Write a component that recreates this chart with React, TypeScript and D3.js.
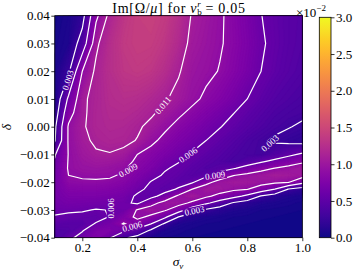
import * as d3 from "d3";
import { useEffect, useRef } from "react";

// grid of the map
const sigma = [0.1, 0.15, 0.2, 0.25, 0.3, 0.35, 0.4, 0.45, 0.5, 0.55, 0.6, 0.65, 0.7, 0.75, 0.8, 0.85, 0.9, 0.95, 1.0];
const delta = [0.04, 0.03, 0.02, 0.01, 0.005, 0, -0.005, -0.01, -0.0125, -0.015, -0.0175, -0.02, -0.0225, -0.025, -0.0275, -0.03, -0.0325, -0.035, -0.0375, -0.04];

// Im[Omega/mu] in units of 1e-3, one row per delta (top row = 0.04)
const growth = [
  [0.3, 0.8, 2.0, 8.5, 11.6, 13.3, 14.2, 14.4, 13.9, 12.6, 10.8, 10.05, 9.3, 8.3, 7.2, 6.05, 5.3, 4.8, 4.5],
  [0.5, 1.0, 4.2, 10.6, 12.5, 13.7, 14.2, 14.1, 13.4, 12.1, 10.4, 9.8, 9.2, 8.4, 7.4, 6.3, 5.4, 4.8, 4.4],
  [0.8, 2.5, 9.0, 11.4, 12.6, 13.4, 13.7, 13.4, 12.5, 11.2, 9.9, 9.5, 8.9, 8.1, 7.1, 6.0, 5.2, 4.6, 4.2],
  [0.8, 6.5, 10.7, 11.5, 12.3, 12.6, 12.4, 11.9, 11.2, 10.4, 9.5, 8.6, 7.9, 7.0, 6.0, 5.1, 4.4, 4.0, 3.7],
  [1.5, 8.0, 10.7, 11.6, 12.1, 12.2, 11.9, 11.3, 10.4, 9.4, 8.5, 7.7, 6.9, 6.05, 5.2, 4.5, 3.9, 3.6, 3.4],
  [2.5, 9.3, 10.8, 11.6, 11.9, 11.8, 11.3, 10.5, 9.4, 8.4, 7.6, 6.8, 6.1, 5.3, 4.6, 4.0, 3.5, 3.1, 2.7],
  [2.8, 9.3, 10.6, 11.3, 11.6, 11.5, 10.9, 9.5, 8.4, 7.5, 6.8, 6.0, 5.2, 4.5, 3.8, 3.3, 2.7, 2.3, 2.0],
  [5.8, 9.1, 10.2, 10.8, 10.9, 10.5, 9.0, 8.2, 7.4, 6.6, 5.8, 5.1, 4.5, 3.9, 3.5, 3.3, 4.3, 5.4, 6.4],
  [6.2, 9.15, 9.9, 10.3, 10.2, 9.8, 8.6, 7.8, 6.8, 6.1, 5.3, 4.7, 4.2, 3.6, 4.5, 5.6, 6.7, 7.7, 8.6],
  [6.5, 9.2, 9.7, 9.8, 9.6, 9.2, 8.2, 7.4, 6.2, 5.6, 4.9, 4.3, 4.7, 5.8, 7.1, 8.2, 9.1, 9.7, 10.3],
  [6.7, 9.0, 9.2, 9.3, 9.3, 8.7, 7.7, 6.7, 5.75, 5.25, 4.6, 5.2, 7.5, 8.9, 9.6, 10.2, 10.8, 10.5, 10.1],
  [6.8, 8.7, 8.8, 8.8, 8.6, 8.2, 7.1, 5.9, 5.4, 4.9, 5.7, 8.3, 9.9, 10.5, 10.4, 9.9, 9.5, 9.1, 6.9],
  [6.8, 8.0, 8.1, 8.1, 7.9, 7.5, 6.5, 5.5, 5.0, 6.3, 9.0, 10.3, 10.2, 9.5, 9.1, 7.8, 6.0, 2.9, 1.8],
  [6.8, 7.4, 7.4, 7.4, 7.2, 6.9, 5.7, 5.2, 7.0, 9.5, 10.6, 9.5, 8.2, 7.0, 5.3, 2.8, 1.7, 1.1, 0.9],
  [6.6, 6.9, 6.8, 6.7, 6.6, 6.5, 5.6, 8.1, 9.9, 9.9, 8.5, 6.5, 4.7, 2.7, 1.7, 1.1, 0.9, 0.7, 0.5],
  [6.3, 6.3, 6.2, 5.9, 6.05, 6.4, 9.2, 10.2, 9.3, 7.4, 4.3, 2.6, 1.6, 1.1, 0.9, 0.6, 0.5, 0.45, 0.4],
  [5.9, 5.6, 5.5, 5.2, 6.1, 7.6, 9.6, 8.5, 6.6, 3.0, 1.5, 1.0, 0.8, 0.6, 0.5, 0.45, 0.4, 0.35, 0.35],
  [5.0, 4.8, 4.8, 6.2, 7.0, 9.2, 7.8, 6.0, 2.6, 1.1, 0.8, 0.6, 0.5, 0.45, 0.4, 0.35, 0.35, 0.3, 0.3],
  [4.2, 4.4, 5.9, 7.4, 7.6, 6.4, 5.2, 2.4, 1.0, 0.7, 0.5, 0.45, 0.4, 0.35, 0.35, 0.3, 0.3, 0.3, 0.3],
  [3.6, 5.6, 6.6, 7.8, 6.2, 3.5, 2.1, 1.0, 0.6, 0.5, 0.4, 0.35, 0.35, 0.3, 0.3, 0.3, 0.3, 0.3, 0.3],
];

// contour levels (1e-3) and the inline labels
const levels = [3, 6, 9, 11];
const labelSigma = [0.148, 0.4935, 0.367, 0.585, 0.883, 0.683, 0.608, 0.382, 0.303];
const labelDelta = [0.0168, 0.0077, -0.0157, -0.0102, -0.006, -0.0176, -0.0303, -0.036, -0.0294];
const labelText = ["0.003", "0.011", "0.009", "0.006", "0.003", "0.009", "0.003", "0.006", "0.006"];
const labelAngle = [-72, -50, -28, -35, -42, -8, -12, -15, -90];

const xTicks = [0.2, 0.4, 0.6, 0.8, 1.0];
const yTicks = [0.04, 0.03, 0.02, 0.01, 0, -0.01, -0.02, -0.03, -0.04];
const cbarTicks = [0, 0.5, 1.0, 1.5, 2.0, 2.5, 3.0];

const FONT = "Liberation Serif, DejaVu Serif, serif";
const W = 353, H = 271;
const P = { left: 54.8, right: 302.3, top: 15.7, bottom: 237.7 };
const CB = { left: 319.3, right: 331, top: 17.3, bottom: 237.7 };

export default function App() {
  const svgRef = useRef<SVGSVGElement>(null);

  useEffect(() => {
    const svg = d3.select(svgRef.current);
    svg.selectAll("*").remove();

    const x = d3.scaleLinear().domain([0.1, 1.0]).range([P.left, P.right]);
    const y = d3.scaleLinear().domain([-0.04, 0.04]).range([P.bottom, P.top]);
    const color = (v: number) => d3.interpolatePlasma(Math.max(0, Math.min(1, v / 30)));

    const n = sigma.length, m = delta.length;
    const col = d3.scaleLinear().domain(d3.range(n)).range(sigma);
    const row = d3.scaleLinear().domain(d3.range(m)).range(delta);
    const proj = d3.geoTransform({
      point(px: number, py: number) {
        this.stream.point(x(col(px - 0.5)), y(row(py - 0.5)));
      },
    });
    const path = d3.geoPath(proj);
    const values = growth.flat();

    const defs = svg.append("defs");
    defs.append("clipPath").attr("id", "plotclip")
      .append("rect").attr("x", P.left).attr("y", P.top)
      .attr("width", P.right - P.left).attr("height", P.bottom - P.top);

    //FILLED MAP
    const bands = d3.contours().size([n, m]).thresholds(d3.range(0, 30, 0.2))(values);
    svg.append("g").attr("clip-path", "url(#plotclip)")
      .selectAll("path").data(bands).join("path")
      .attr("d", path as any)
      .attr("fill", (d) => color(d.value))
      .attr("stroke", (d) => color(d.value))
      .attr("stroke-width", 0.3);

    //CONTOUR LINES, WITH GAPS UNDER THE LABELS
    const mask = defs.append("mask").attr("id", "labelmask")
      .attr("maskUnits", "userSpaceOnUse")
      .attr("x", 0).attr("y", 0).attr("width", W).attr("height", H);
    mask.append("rect").attr("width", W).attr("height", H).attr("fill", "white");

    const lines = d3.contours().size([n, m]).thresholds(levels)(values);
    svg.append("g").attr("clip-path", "url(#plotclip)")
      .append("g").attr("mask", "url(#labelmask)")
      .selectAll("path").data(lines).join("path")
      .attr("d", path as any)
      .attr("fill", "none")
      .attr("stroke", "white")
      .attr("stroke-width", 1.2);

    const lab = svg.append("g");
    labelText.forEach((t, i) => {
      const lx = x(labelSigma[i]), ly = y(labelDelta[i]);
      const txt = lab.append("text")
        .attr("transform", `translate(${lx},${ly}) rotate(${labelAngle[i]})`)
        .attr("text-anchor", "middle").attr("dy", "0.33em")
        .attr("font-family", FONT).attr("font-size", 9)
        .attr("fill", "white").text(t);
      const w = (txt.node() as SVGTextElement).getComputedTextLength() + 3;
      mask.append("rect")
        .attr("x", -w / 2).attr("y", -4).attr("width", w).attr("height", 8)
        .attr("transform", `translate(${lx},${ly}) rotate(${labelAngle[i]})`)
        .attr("fill", "black");
    });

    //FRAME AND AXES
    svg.append("rect").attr("x", P.left).attr("y", P.top)
      .attr("width", P.right - P.left).attr("height", P.bottom - P.top)
      .attr("fill", "none").attr("stroke", "black").attr("stroke-width", 0.8);

    const styleAxis = (g: any) => {
      g.attr("font-family", FONT);
      g.select(".domain").remove();
      g.selectAll("line").attr("stroke", "black").attr("stroke-width", 0.8);
      g.selectAll("text").attr("font-family", FONT).attr("font-size", 13).attr("fill", "black");
    };
    svg.append("g").attr("transform", `translate(0,${P.bottom})`)
      .call(d3.axisBottom(x).tickValues(xTicks).tickFormat(d3.format(".1f") as any).tickSize(3.5).tickPadding(2))
      .call(styleAxis);
    svg.append("g").attr("transform", `translate(${P.left},0)`)
      .call(d3.axisLeft(y).tickValues(yTicks).tickFormat(d3.format(".2f") as any).tickSize(3.5).tickPadding(1.5))
      .call(styleAxis);

    //COLORBAR
    const grad = defs.append("linearGradient").attr("id", "cbgrad")
      .attr("x1", 0).attr("y1", 1).attr("x2", 0).attr("y2", 0);
    d3.range(0, 1.0001, 0.05).forEach((t) => {
      grad.append("stop").attr("offset", t).attr("stop-color", d3.interpolatePlasma(t));
    });
    svg.append("rect").attr("x", CB.left).attr("y", CB.top)
      .attr("width", CB.right - CB.left).attr("height", CB.bottom - CB.top)
      .attr("fill", "url(#cbgrad)").attr("stroke", "black").attr("stroke-width", 0.8);
    const cy = d3.scaleLinear().domain([0, 3]).range([CB.bottom, CB.top]);
    svg.append("g").attr("transform", `translate(${CB.right},0)`)
      .call(d3.axisRight(cy).tickValues(cbarTicks).tickFormat(d3.format(".1f") as any).tickSize(3.5).tickPadding(1.5))
      .call(styleAxis);

    const mul = svg.append("text").attr("x", 296).attr("y", 16.5)
      .attr("font-family", FONT).attr("font-size", 13);
    mul.append("tspan").text("×10");
    mul.append("tspan").attr("dy", -5.5).attr("font-size", 9).text("−2");

    //TITLE AND AXIS LABELS
    const title = svg.append("text").attr("x", 179).attr("y", 12.5)
      .attr("text-anchor", "middle").attr("font-family", FONT).attr("font-size", 14)
      .attr("letter-spacing", 0.7);
    title.append("tspan").text("Im[Ω/");
    title.append("tspan").attr("font-style", "italic").text("μ");
    title.append("tspan").text("] for ");
    title.append("tspan").attr("font-style", "italic").text("v");
    title.append("tspan").attr("dy", 2.5).attr("font-size", 9).text("b");
    title.append("tspan").attr("dx", -5.2).attr("dy", -8.5).attr("font-size", 9).attr("font-style", "italic").text("r");
    title.append("tspan").attr("dy", 6).text(" = 0.05");

    const xl = svg.append("text").attr("x", 178).attr("y", 266)
      .attr("text-anchor", "middle").attr("font-family", FONT).attr("font-size", 13.5);
    xl.append("tspan").attr("font-style", "italic").text("σ");
    xl.append("tspan").attr("dy", 2.5).attr("font-size", 9).attr("font-style", "italic").text("ν");

    svg.append("text").attr("transform", `translate(11,127) rotate(-90)`)
      .attr("text-anchor", "middle").attr("font-family", FONT).attr("font-size", 13.5)
      .attr("font-style", "italic").text("δ");
  }, []);

  return (
    <svg ref={svgRef} width={W} height={H}
      style={{ position: "absolute", left: 0, top: 0, background: "white" }} />
  );
}
